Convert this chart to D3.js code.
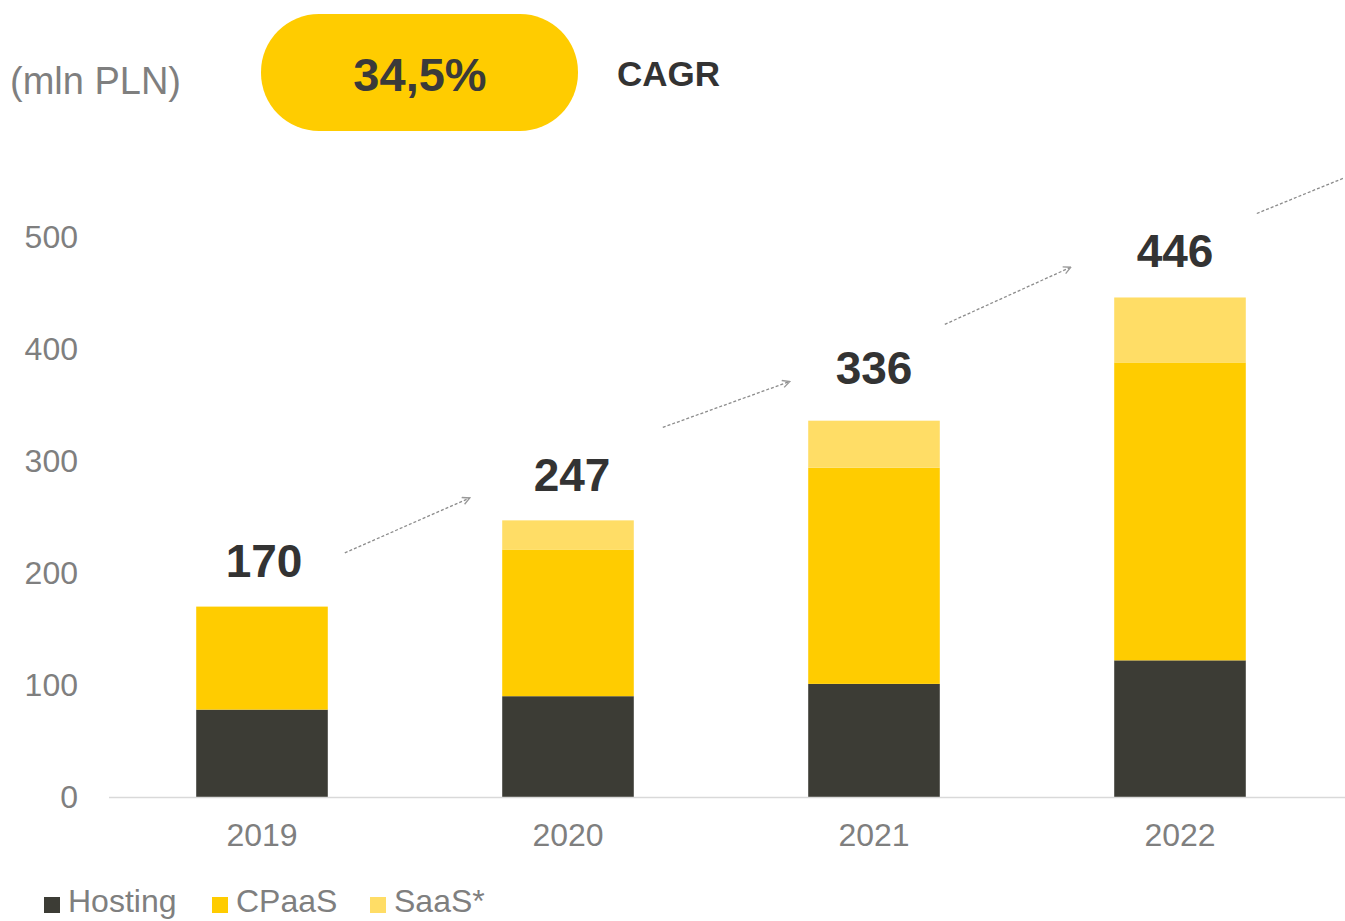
<!DOCTYPE html>
<html>
<head>
<meta charset="utf-8">
<script src="https://cdn.jsdelivr.net/npm/d3@7"></script>
<style>
  body { margin: 0; background: #fff; overflow: hidden; }
  svg { display: block; font-family: "Liberation Sans", Arial, sans-serif; }
</style>
</head>
<body>
<div id="chart"></div>
<script>
var years    = ["2019", "2020", "2021", "2022"];
var hosting  = [78, 90, 101, 122];
var cpaas    = [92, 131, 193, 266];
var saas     = [0, 26, 42, 58];
var totals   = [170, 247, 336, 446];
var yTicks   = [0, 100, 200, 300, 400, 500];
var seriesNames = ["Hosting", "CPaaS", "SaaS*"];
var colors   = ["#3c3c35", "#ffcc00", "#ffdd66"];
// growth arrows: start/end value on the y scale
var arrowFrom = [218, 330, 422, 521];
var arrowTo   = [267, 371, 473, 553];

var W = 1345, H = 921;
var svg = d3.select("#chart").append("svg")
    .attr("width", W).attr("height", H);

var x = d3.scaleBand().domain(years).range([109, 1333]).paddingInner(0.57).paddingOuter(0.285);
var y = d3.scaleLinear().domain([0, 500]).range([797, 237]);

// build stacked table
var table = years.map(function(yr, i) {
  return {year: yr, Hosting: hosting[i], CPaaS: cpaas[i], "SaaS*": saas[i]};
});
var stack = d3.stack().keys(seriesNames)(table);

// y axis labels (no line)
var yAxis = svg.append("g")
    .attr("transform", "translate(80,0)")
    .call(d3.axisLeft(y).tickValues(yTicks).tickSize(0).tickPadding(2));
yAxis.select(".domain").remove();
yAxis.selectAll("text")
    .attr("fill", "#7f7f7f")
    .style("font-size", "32px")
    .style("font-family", "Liberation Sans, Arial, sans-serif");

// bars
svg.append("g").selectAll("g")
  .data(stack)
  .join("g")
    .attr("fill", function(d, i) { return colors[i]; })
  .selectAll("rect")
  .data(function(d) { return d; })
  .join("rect")
    .attr("x", function(d) { return x(d.data.year); })
    .attr("y", function(d) { return y(d[1]); })
    .attr("width", x.bandwidth())
    .attr("height", function(d) { return y(d[0]) - y(d[1]); });

// x axis
var xAxis = svg.append("g")
    .attr("transform", "translate(0," + y(0) + ")")
    .call(d3.axisBottom(x).tickSize(0).tickPadding(26));
xAxis.select(".domain").remove();
svg.append("line")
    .attr("x1", 109).attr("x2", W)
    .attr("y1", y(0) + 0.5).attr("y2", y(0) + 0.5)
    .attr("stroke", "#d9d9d9").attr("stroke-width", 1.5);
xAxis.selectAll("text")
    .attr("fill", "#7f7f7f")
    .style("font-size", "32px")
    .style("font-family", "Liberation Sans, Arial, sans-serif");

// totals (small hand nudges to sit like the original)
var labelDx = [2, 4, 0, -5];
var labelGap = [30, 29, 37, 30];
svg.append("g").selectAll("text")
  .data(totals)
  .join("text")
    .attr("x", function(d, i) { return x(years[i]) + x.bandwidth() / 2 + labelDx[i]; })
    .attr("y", function(d, i) { return y(d) - labelGap[i]; })
    .attr("text-anchor", "middle")
    .attr("fill", "#333333")
    .style("font-size", "46px")
    .style("font-weight", "bold")
    .text(function(d) { return d; });

// dashed growth arrows
var defs = svg.append("defs");
defs.append("marker")
    .attr("id", "arr")
    .attr("viewBox", "0 0 10 10")
    .attr("refX", 9).attr("refY", 5)
    .attr("markerWidth", 7).attr("markerHeight", 7)
    .attr("orient", "auto")
  .append("path")
    .attr("d", "M1,1 L9,5 L1,9")
    .attr("fill", "none")
    .attr("stroke", "#999")
    .attr("stroke-width", 1.5);

var arrowDx  = [17, 29, 5, 11];    // start offset after each bar
var arrowLen = [125, 127, 126, 88];
svg.append("g").selectAll("line")
  .data(arrowFrom)
  .join("line")
    .attr("x1", function(d, i) { return x(years[i]) + x.bandwidth() + arrowDx[i]; })
    .attr("x2", function(d, i) { return x(years[i]) + x.bandwidth() + arrowDx[i] + arrowLen[i]; })
    .attr("y1", function(d) { return y(d); })
    .attr("y2", function(d, i) { return y(arrowTo[i]); })
    .attr("stroke", "#8c8c8c")
    .attr("stroke-width", 1.3)
    .attr("stroke-dasharray", "3,2")
    .attr("marker-end", function(d, i) { return i < 3 ? "url(#arr)" : null; });

// header
svg.append("text")
    .attr("x", 10).attr("y", 94)
    .attr("fill", "#7f7f7f")
    .style("font-size", "38px")
    .text("(mln PLN)");
svg.append("rect")
    .attr("x", 261).attr("y", 14)
    .attr("width", 317).attr("height", 117)
    .attr("rx", 58).attr("ry", 58)
    .attr("fill", "#ffcc00");
svg.append("text")
    .attr("x", 420).attr("y", 91)
    .attr("text-anchor", "middle")
    .attr("fill", "#3a3a3a")
    .style("font-size", "47px")
    .style("font-weight", "bold")
    .text("34,5%");
svg.append("text")
    .attr("x", 617).attr("y", 86)
    .attr("fill", "#333333")
    .style("font-size", "35px")
    .style("font-weight", "bold")
    .text("CAGR");

// legend
var legendX = [44, 212, 370];
var legend = svg.append("g").selectAll("g")
  .data(seriesNames)
  .join("g")
    .attr("transform", function(d, i) { return "translate(" + legendX[i] + ",0)"; });
legend.append("rect")
    .attr("x", 0).attr("y", 897)
    .attr("width", 16).attr("height", 16)
    .attr("fill", function(d, i) { return colors[i]; });
legend.append("text")
    .attr("x", 24).attr("y", 912)
    .attr("fill", "#7f7f7f")
    .style("font-size", "32px")
    .text(function(d) { return d; });
</script>
</body>
</html>
